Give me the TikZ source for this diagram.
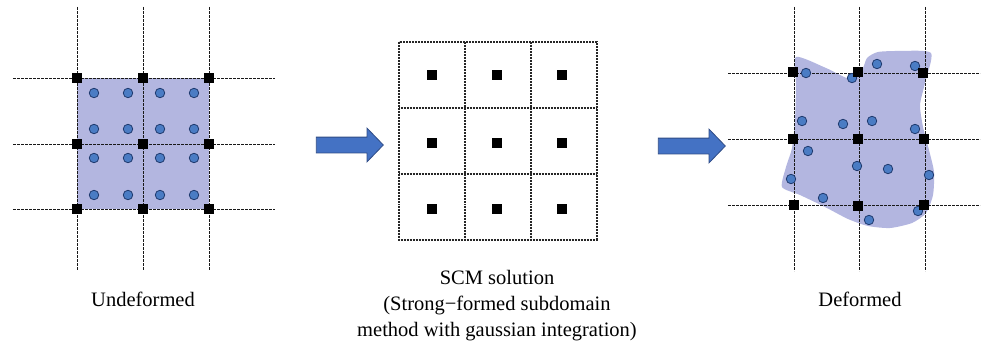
\documentclass[tikz,border=0pt]{standalone}
\usepackage{fontspec}
\setmainfont{Liberation Serif}
\usetikzlibrary{shapes.arrows}

\definecolor{lav}{HTML}{B3B6E0}
\definecolor{dotfill}{HTML}{4A7CC4}
\definecolor{dotline}{HTML}{1F3A6E}
\definecolor{arrfill}{HTML}{4472C4}
\definecolor{arrline}{HTML}{2F4C86}

\tikzset{
  gridline/.style={line width=0.75pt, black!90, dash pattern=on 2.6pt off 1.4pt},
  cellline/.style={line width=1.3pt, black!85, dash pattern=on 0.9pt off 0.6pt},
  node pt/.style={fill=black, inner sep=0pt, minimum size=10pt, draw=none},
  sub pt/.style={fill=black, inner sep=0pt, minimum size=9.5pt, draw=none},
  gauss pt/.style={circle, fill=dotfill, draw=dotline, line width=0.8pt, inner sep=0pt, minimum size=9.5pt},
  bigarrow/.style={single arrow, fill=arrfill, draw=arrline, line width=0.8pt,
    inner xsep=0pt, inner ysep=7.5pt, minimum height=67pt,
    single arrow head extend=9pt, single arrow tip angle=92},
  caption/.style={font=\fontsize{20.5}{26}\selectfont, inner sep=0pt, anchor=base}
}

\begin{document}
\begin{tikzpicture}[x=1pt, y=-1pt]
\useasboundingbox (0,0) rectangle (981,350);

% ---------- undeformed mesh ----------
\fill[lav] (77,78) rectangle (209,209);
\foreach \x [count=\i] in {77,143,209} {
  \coordinate (lvt\i) at (\x,7);
  \coordinate (lvb\i) at (\x,270);
  \draw[gridline] (lvt\i) -- (lvb\i);
}
\foreach \y [count=\i] in {78,144,209} {
  \coordinate (lhl\i) at (13,\y);
  \coordinate (lhr\i) at (275,\y);
  \draw[gridline] (lhl\i) -- (lhr\i);
}
\foreach \x [count=\i] in {94,128,160,194} {
  \foreach \y [count=\j] in {93,129,158,195} {
    \node[gauss pt] (lg\i\j) at (\x,\y) {};
  }
}
\foreach \x [count=\i] in {77,143,209} {
  \foreach \y [count=\j] in {78,144,209} {
    \node[node pt] (ln\i\j) at (\x,\y) {};
  }
}
\node[caption] (undef) at (143,306) {Undeformed};

% ---------- block arrows ----------
\node[bigarrow] (arr1) at (346,145) {};
\node[bigarrow] (arr2) at (688,146) {};

% ---------- SCM subdomains ----------
\draw[cellline] (399,42) rectangle (597,240);
\foreach \x [count=\i] in {465,531} {
  \coordinate (mvt\i) at (\x,42);
  \coordinate (mvb\i) at (\x,240);
  \draw[cellline] (mvt\i) -- (mvb\i);
}
\foreach \y [count=\i] in {108,174} {
  \coordinate (mhl\i) at (399,\y);
  \coordinate (mhr\i) at (597,\y);
  \draw[cellline] (mhl\i) -- (mhr\i);
}
\foreach \x [count=\i] in {432,497,562} {
  \foreach \y [count=\j] in {75,143,209} {
    \node[sub pt] (ms\i\j) at (\x,\y) {};
  }
}
\node[caption] (scm1) at (497,284) {SCM solution};
\node[caption] (scm2) at (497,310) {(Strong−formed subdomain};
\node[caption] (scm3) at (497,336) {method with gaussian integration)};

% ---------- deformed body ----------
\fill[lav] plot[smooth cycle, tension=0.4] coordinates {
  (796,57) (826,68) (850,79) (862,70) (867,58) (878,52) (900,51) (931,53)
  (925,83) (920,105) (923,127) (929,150) (934,172) (933,195) (926,213)
  (912,223) (890,228) (868,226) (848,219) (825,207) (800,195) (782,187)
  (786,167) (792,148) (795,120) (796,85)};
\foreach \x [count=\i] in {794,859,925} {
  \coordinate (rvt\i) at (\x,7);
  \coordinate (rvb\i) at (\x,271);
  \draw[gridline] (rvt\i) -- (rvb\i);
}
\foreach \y [count=\i] in {73,139,205} {
  \coordinate (rhl\i) at (728,\y);
  \coordinate (rhr\i) at (980,\y);
  \draw[gridline] (rhl\i) -- (rhr\i);
}
\foreach \p [count=\k] in {(806,73),(852,78),(877,64),(915,66),
                           (802,121),(843,124),(872,121),(915,129),
                           (808,151),(857,166),(888,169),(929,175),
                           (791,179),(823,198),(869,220),(918,211)} {
  \node[gauss pt] (rg\k) at \p {};
}
\foreach \p [count=\k] in {(793,72),(858,72),(923,73),
                           (793,139),(858,139),(924,139),
                           (794,205),(858,206),(924,205)} {
  \node[node pt] (rn\k) at \p {};
}
\node[caption] (def) at (860,306) {Deformed};
\end{tikzpicture}
\end{document}
